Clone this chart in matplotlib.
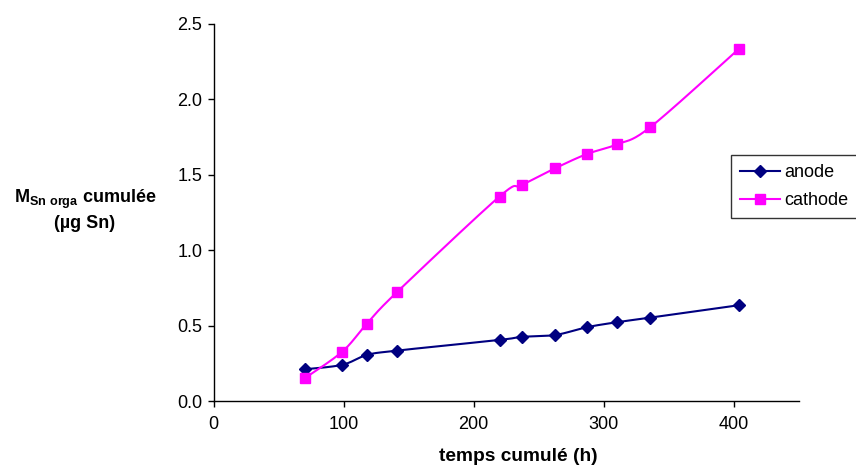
import numpy as np
import matplotlib
matplotlib.use("Agg")
import matplotlib.pyplot as plt
from matplotlib.lines import Line2D

plt.rcParams['font.family'] = ['Liberation Sans', 'DejaVu Sans']
plt.rcParams['mathtext.fontset'] = 'custom'
plt.rcParams['mathtext.rm'] = 'Liberation Sans'
plt.rcParams['mathtext.bf'] = 'Liberation Sans:bold'

anode_x = [70, 99, 118, 141, 220, 237, 263, 287, 310, 336, 404]
anode_y = [0.21, 0.24, 0.305, 0.334, 0.405, 0.425, 0.438, 0.489, 0.522, 0.553, 0.635]
cathode_x = [70, 99, 118, 141, 220, 237, 263, 287, 310, 336, 404]
cathode_y = [0.150, 0.327, 0.513, 0.721, 1.356, 1.431, 1.544, 1.637, 1.701, 1.816, 2.334]
x_ticks = [0, 100, 200, 300, 400]
y_ticks = [0.0, 0.5, 1.0, 1.5, 2.0, 2.5]


def smooth(xs, ys, n=30):
    p = np.column_stack([xs, ys]).astype(float)
    p = np.vstack([p[0], p, p[-1]])
    out = []
    t = np.linspace(0, 1, n)[:, None]
    for i in range(1, len(p) - 2):
        p0, p1, p2, p3 = p[i - 1], p[i], p[i + 1], p[i + 2]
        c1 = p1 + (p2 - p0) / 6
        c2 = p2 - (p3 - p1) / 6
        seg = ((1 - t) ** 3) * p1 + 3 * ((1 - t) ** 2) * t * c1 + 3 * (1 - t) * t ** 2 * c2 + t ** 3 * p2
        out.append(seg if i == 1 else seg[1:])
    s = np.vstack(out)
    return s[:, 0], s[:, 1]


fig = plt.figure(figsize=(8.56, 4.65), dpi=100)
ax = fig.add_axes([213.5 / 856, 64 / 465, (798.5 - 213.5) / 856, (401 - 24) / 465])

navy = '#000080'
mag = '#FF00FF'
sx, sy = smooth(anode_x, anode_y)
ax.plot(sx, sy, color=navy, lw=1.5)
ax.plot(anode_x, anode_y, ls='none', marker='D', ms=6.5, color=navy)
sx, sy = smooth(cathode_x, cathode_y)
ax.plot(sx, sy, color=mag, lw=1.5)
ax.plot(cathode_x, cathode_y, ls='none', marker='s', ms=7.5, color=mag)

handles = [Line2D([], [], color=navy, lw=1.5, marker='D', ms=6.5),
           Line2D([], [], color=mag, lw=1.5, marker='s', ms=7.5)]
leg = ax.legend(handles, ['anode', 'cathode'], loc='upper left',
                bbox_to_anchor=(731 / 856, 1 - 155 / 465), bbox_transform=fig.transFigure,
                frameon=True, fancybox=False, edgecolor='black', fontsize=13,
                handlelength=2.2, handletextpad=0.25, borderpad=0.5, labelspacing=0.6,
                borderaxespad=0)
leg.get_frame().set_linewidth(1.0)

ax.set_xlim(0, 450)
ax.set_ylim(0, 2.5)
ax.set_xticks(x_ticks)
ax.set_yticks(y_ticks)
ax.set_yticklabels([f"{v:.1f}" for v in y_ticks])
ax.tick_params(direction='out', length=4, width=1, labelsize=13)
ax.tick_params(axis='x', pad=7)
ax.tick_params(axis='y', pad=4)
for s in ['top', 'right']:
    ax.spines[s].set_visible(False)
for s in ['left', 'bottom']:
    ax.spines[s].set_linewidth(1.0)

fig.text(518.5 / 856, 1 - 456 / 465, 'temps cumulé (h)', ha='center', va='center',
         fontsize=13.8, fontweight='bold')
fig.text(85 / 856, 1 - 199 / 465, r'M$\mathbf{_{Sn\ orga}}$ cumulée', ha='center', va='center',
         fontsize=13, fontweight='bold')
fig.text(85 / 856, 1 - 223 / 465, '(µg Sn)', ha='center', va='center',
         fontsize=13, fontweight='bold')

fig.savefig('out.png', dpi=100)
